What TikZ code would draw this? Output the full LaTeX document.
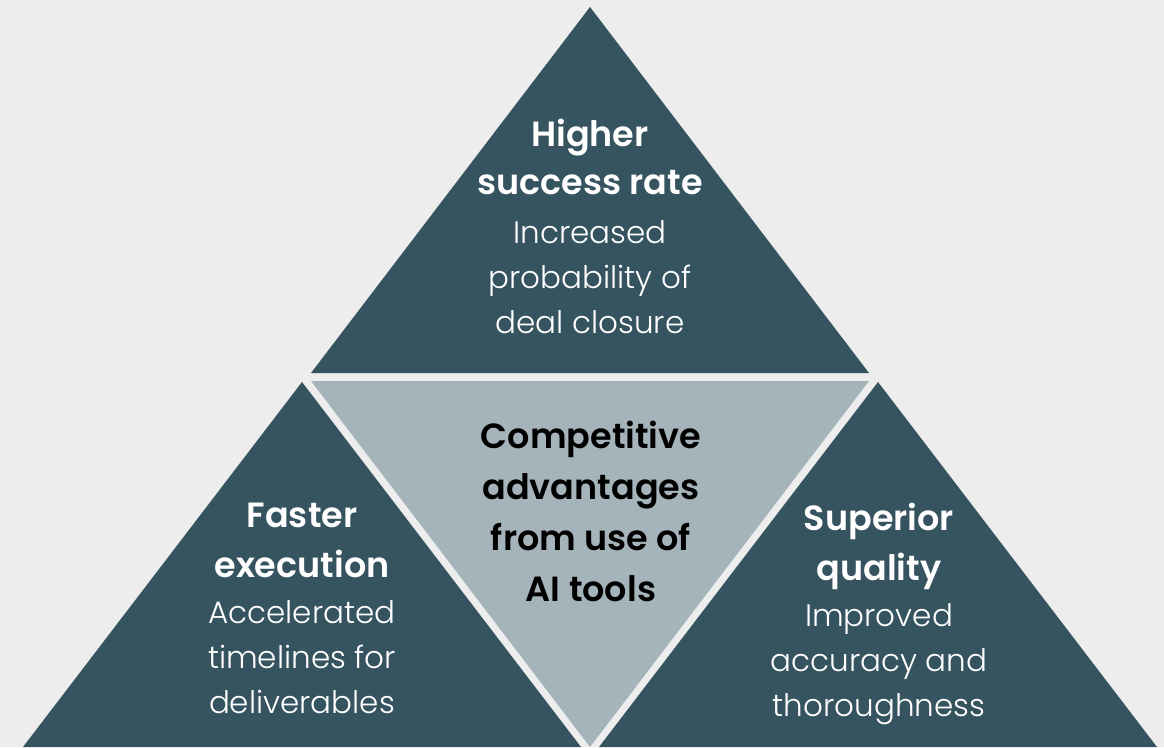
\documentclass[tikz,border=0pt]{standalone}
\usepackage{fontspec}
\setmainfont{Poppins}[BoldFont={Poppins SemiBold}]
\newfontfamily\lightf{Poppins Light}
\definecolor{bgc}{HTML}{EDEDED}
\definecolor{darkc}{HTML}{36545F}
\definecolor{lightc}{HTML}{A5B3BA}
\newcommand{\hd}[1]{{\fontsize{35}{45}\selectfont\normalfont\bfseries #1}}
\begin{document}
\begin{tikzpicture}[x=1pt,y=-1pt,
  tri/.style={fill=darkc},
  ctri/.style={fill=lightc},
  txt/.style={text=white,align=center,inner sep=0pt,anchor=north,font=\fontsize{31}{45}\selectfont\lightf},
  ctxt/.style={text=black,align=center,inner sep=0pt,anchor=north,font=\fontsize{35}{51}\selectfont\bfseries}]
\fill[bgc] (0,0) rectangle (1164,747);
\useasboundingbox (0,0) rectangle (1164,747);
% triangles
\fill[tri] (590,7) -- (311,373) -- (869,373) -- cycle;
\fill[ctri] (311,381) -- (869,381) -- (590,747) -- cycle;
\fill[tri] (302,382) -- (23,747) -- (581,747) -- cycle;
\fill[tri] (878,382) -- (599,747) -- (1157,747) -- cycle;
% texts
\node[txt] (top) at (590,119) {\hd{Higher}\\[3pt]\hd{success rate}\\[4pt]Increased\\probability of\\deal closure};
\node[ctxt] (center) at (591,421) {Competitive\\advantages\\from use of\\AI tools};
\node[txt] (left) at (302,503) {\hd{Faster}\\[5pt]\hd{execution}\\[1pt]Accelerated\\timelines for\\deliverables};
\node[txt] (right) at (879,503) {\hd{Superior}\\[5pt]\hd{quality}\\[1pt]Improved\\accuracy and\\thoroughness};
\end{tikzpicture}
\end{document}
